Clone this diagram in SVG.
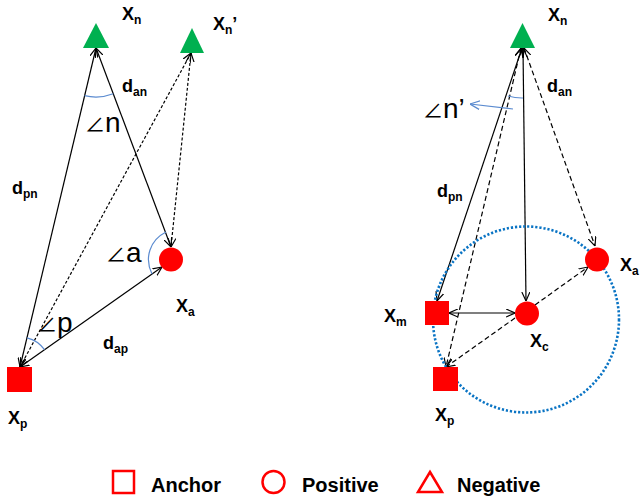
<svg xmlns="http://www.w3.org/2000/svg" width="640" height="502" viewBox="0 0 640 502">
<style>
.lbl{font-family:"Liberation Sans",Arial,sans-serif;font-weight:bold;font-size:18px;fill:#000}
.sub{font-size:12px}
.ang{font-family:"Liberation Sans",Arial,sans-serif;font-size:28px;fill:#000}
.angs{font-family:"Noto Sans CJK SC","DejaVu Sans",sans-serif;font-size:20px}
.leg{font-family:"Liberation Sans",Arial,sans-serif;font-weight:bold;font-size:20px;fill:#000}
.ln{stroke:#000;stroke-width:1.2;fill:none}
.dl{stroke-dasharray:3 2}
.dr{stroke-dasharray:5 3}
.both{marker-start:url(#ah);marker-end:url(#ah)}
.end{marker-end:url(#ah)}
.neg{fill:#00B050}
.pos{fill:#FF0000}
.arc{stroke:#5b8bd0;stroke-width:1.2;fill:none}
</style>
<defs>
<marker id="ah" viewBox="0 0 10 10" refX="10" refY="5" markerWidth="9" markerHeight="9" markerUnits="userSpaceOnUse" orient="auto-start-reverse">
<path d="M0,0.5 L10,5 L0,9.5" fill="none" stroke="#000" stroke-width="1.3"/>
</marker>
<marker id="bh" viewBox="0 0 10 10" refX="10" refY="5" markerWidth="10" markerHeight="10" markerUnits="userSpaceOnUse" orient="auto">
<path d="M0,0.5 L10,5 L0,9.5" fill="none" stroke="#5b8bd0" stroke-width="1.3"/>
</marker>
</defs>

<g id="connectors">
<path class="ln both" d="M20,367 L96,48"/>
<path class="ln both" d="M96,48 L171,247"/>
<path class="ln both" d="M20,367 L162,267"/>
<path class="ln dl both" d="M20,367 L191,53"/>
<path class="ln dl both" d="M191,53 L171,247"/>
<path class="ln both" d="M522,48 L437,301"/>
<path class="ln both" d="M523,48 L526,301"/>
<path class="ln dr both" d="M521,48 L446,367"/>
<path class="ln dr both" d="M524,48 L595,246"/>
<path class="ln both" d="M449,313 L515,313"/>
<path class="ln dr end" d="M535,305 L588,267"/>
<path class="ln dr end" d="M515,318 L446,367"/>
</g>

<g id="angles">
<path class="arc" d="M113.3,93.8 A49,49 0 0 1 84.6,95.7"/>
<path class="arc" d="M166,232 C150,240 144,258 152,274"/>
<path class="arc" d="M27,337.8 A30,30 0 0 1 44.5,349.7"/>
<path class="arc" d="M523,98 A50,50 0 0 1 508,96"/>
<path class="arc" d="M513,109 L470,104" marker-end="url(#bh)"/>
<text class="ang" x="85" y="132"><tspan class="angs">∠</tspan>n</text>
<text class="ang" x="106" y="262"><tspan class="angs">∠</tspan>a</text>
<text class="ang" x="37" y="332"><tspan class="angs">∠</tspan>p</text>
<text class="ang" x="423" y="118"><tspan class="angs">∠</tspan>n’</text>
</g>

<circle id="neighbourhood" cx="526" cy="319.5" r="93" fill="none" stroke="#0a74c4" stroke-width="2.6" stroke-dasharray="2.2 1.9"/>

<g id="left-xn">
<polygon class="neg" points="96,23 109,48 83,48"/>
<text class="lbl" x="122" y="20">X<tspan class="sub" dy="4">n</tspan></text>
</g>
<g id="left-xn2">
<polygon class="neg" points="192,28 204,53 180,53"/>
<text class="lbl" x="213" y="30">X<tspan class="sub" dy="4">n</tspan><tspan dy="-4">’</tspan></text>
</g>
<g id="left-xa">
<circle class="pos" cx="171" cy="259.5" r="12"/>
<text class="lbl" x="176" y="312">X<tspan class="sub" dy="4">a</tspan></text>
</g>
<g id="left-xp">
<rect class="pos" x="7" y="367" width="25" height="25"/>
<text class="lbl" x="8" y="424">X<tspan class="sub" dy="4">p</tspan></text>
</g>
<g id="left-dist">
<text class="lbl" x="122" y="92">d<tspan class="sub" dy="4">an</tspan></text>
<text class="lbl" x="12" y="194">d<tspan class="sub" dy="4">pn</tspan></text>
<text class="lbl" x="103" y="349">d<tspan class="sub" dy="4">ap</tspan></text>
</g>

<g id="right-xn">
<polygon class="neg" points="522.5,23 535,48 510,48"/>
<text class="lbl" x="548" y="21">X<tspan class="sub" dy="4">n</tspan></text>
</g>
<g id="right-xm">
<rect class="pos" x="425" y="301" width="24" height="24"/>
<text class="lbl" x="384" y="322">X<tspan class="sub" dy="4">m</tspan></text>
</g>
<g id="right-xp">
<rect class="pos" x="433" y="367" width="25" height="24"/>
<text class="lbl" x="435" y="421">X<tspan class="sub" dy="4">p</tspan></text>
</g>
<g id="right-xc">
<circle class="pos" cx="527" cy="313.5" r="12"/>
<text class="lbl" x="530" y="347">X<tspan class="sub" dy="4">c</tspan></text>
</g>
<g id="right-xa">
<circle class="pos" cx="597" cy="259.5" r="12"/>
<text class="lbl" x="620" y="271">X<tspan class="sub" dy="4">a</tspan></text>
</g>
<g id="right-dist">
<text class="lbl" x="547" y="92">d<tspan class="sub" dy="4">an</tspan></text>
<text class="lbl" x="437" y="197">d<tspan class="sub" dy="4">pn</tspan></text>
</g>

<g id="legend">
<rect x="113" y="471" width="21" height="22" fill="none" stroke="#FF0000" stroke-width="2.5"/>
<text class="leg" x="151" y="492">Anchor</text>
<circle cx="273.5" cy="482" r="11" fill="none" stroke="#FF0000" stroke-width="2.5"/>
<text class="leg" x="302" y="492">Positive</text>
<polygon points="430,472 442,492 418,492" fill="none" stroke="#FF0000" stroke-width="2.5"/>
<text class="leg" x="457" y="492">Negative</text>
</g>
</svg>
